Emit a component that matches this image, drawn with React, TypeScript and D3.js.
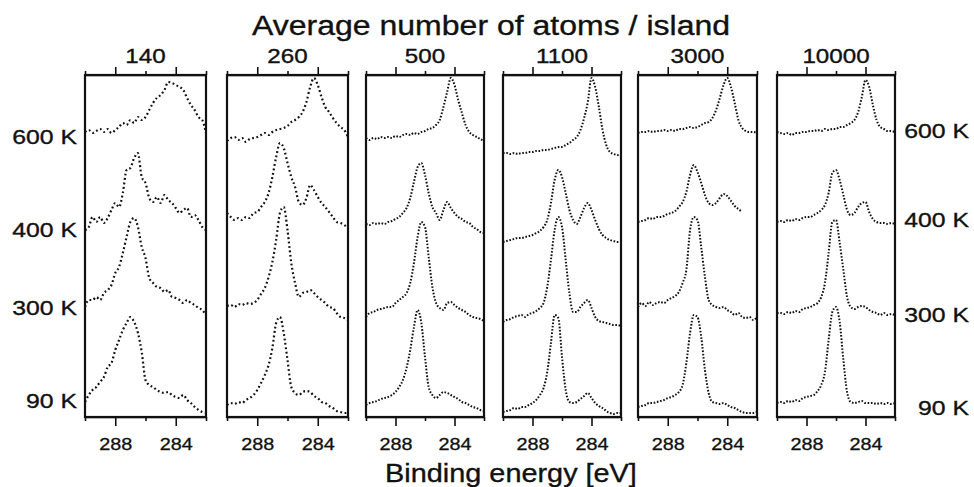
import * as d3 from 'd3';
import * as React from 'react';

// Average number of atoms per island, one panel each
const islandSizes = ['140', '260', '500', '1100', '3000', '10000'];
const temperatures = ['600 K', '400 K', '300 K', '90 K'];
const axisTicks = [290, 288, 286, 284, 282];
const labelledTicks = [288, 284];

// Offset intensities (arb. units), sampled every 0.25 eV from 290 eV downwards
const i140_600 = [285, 287, 284, 286, 288, 285, 288, 284, 287, 290, 294, 292, 297, 294, 300, 297, 300, 307, 314, 319, 322, 327, 335, 334, 332, 330, 327, 319, 312, 307, 300, 297, 284];
const i140_400 = [187, 190, 200, 195, 200, 194, 199, 207, 214, 210, 224, 247, 249, 259, 264, 240, 234, 219, 215, 220, 214, 222, 217, 214, 209, 204, 207, 209, 200, 202, 197, 190, 187];
const i140_300 = [110, 117, 117, 120, 117, 124, 127, 132, 144, 150, 164, 180, 195, 199, 190, 170, 159, 139, 134, 130, 129, 125, 127, 120, 119, 117, 114, 117, 114, 112, 109, 107, 102];
const i140_90 = [15, 22, 27, 30, 35, 40, 50, 54, 67, 77, 87, 94, 100, 95, 84, 65, 37, 32, 30, 27, 25, 24, 25, 22, 20, 19, 22, 17, 14, 10, 7, 5, 4];

const i260_600 = [276, 279, 280, 277, 279, 275, 278, 279, 280, 282, 284, 282, 285, 287, 288, 289, 291, 295, 297, 300, 305, 315, 330, 339, 332, 320, 310, 305, 299, 294, 290, 287, 280];
const i260_400 = [204, 200, 197, 199, 197, 200, 199, 204, 205, 210, 215, 224, 240, 260, 274, 269, 254, 240, 230, 215, 212, 219, 232, 227, 220, 214, 210, 205, 200, 195, 194, 192, 189];
const i260_300 = [111, 112, 110, 113, 112, 114, 113, 114, 117, 123, 129, 140, 155, 177, 204, 210, 187, 154, 134, 120, 124, 125, 127, 124, 120, 117, 114, 110, 109, 104, 100, 99, 97];
const i260_90 = [12, 14, 13, 15, 14, 17, 19, 22, 27, 34, 42, 52, 69, 94, 100, 84, 57, 30, 24, 22, 25, 26, 25, 21, 19, 15, 14, 11, 9, 6, 5, 4, 4];

const i500_600 = [279, 277, 279, 278, 280, 279, 280, 279, 281, 280, 282, 283, 282, 284, 283, 285, 286, 288, 289, 292, 297, 310, 325, 339, 332, 317, 304, 292, 285, 282, 280, 278, 276];
const i500_400 = [193, 192, 194, 193, 194, 193, 195, 196, 198, 200, 204, 209, 219, 235, 250, 254, 242, 224, 210, 204, 197, 207, 215, 209, 204, 200, 198, 195, 194, 190, 188, 185, 184];
const i500_300 = [100, 104, 105, 107, 108, 109, 110, 110, 114, 117, 120, 124, 134, 154, 180, 195, 190, 160, 130, 114, 109, 107, 114, 115, 112, 109, 107, 105, 102, 100, 99, 98, 96];
const i500_90 = [12, 14, 15, 16, 18, 19, 20, 22, 25, 30, 37, 49, 67, 90, 107, 94, 60, 30, 22, 19, 22, 25, 24, 22, 20, 18, 15, 14, 12, 10, 9, 7, 6];

const i1100_600 = [264, 264, 263, 264, 263, 264, 264, 265, 265, 266, 266, 267, 267, 268, 269, 270, 270, 272, 274, 277, 280, 287, 299, 315, 339, 330, 310, 287, 272, 265, 263, 262, 261];
const i1100_400 = [175, 176, 177, 178, 179, 179, 180, 181, 182, 184, 186, 190, 197, 214, 237, 247, 240, 224, 207, 197, 193, 200, 209, 214, 207, 197, 188, 182, 179, 177, 176, 175, 175];
const i1100_300 = [95, 97, 98, 100, 101, 102, 100, 103, 104, 106, 109, 114, 130, 157, 187, 200, 190, 157, 124, 105, 105, 110, 114, 117, 109, 100, 96, 95, 94, 93, 92, 92, 91];
const i1100_90 = [5, 6, 7, 9, 8, 10, 10, 12, 14, 17, 22, 29, 45, 74, 102, 99, 60, 27, 15, 14, 15, 18, 21, 24, 19, 14, 11, 9, 6, 4, 3, 4, 4];

const i3000_600 = [284, 285, 285, 286, 285, 286, 286, 287, 286, 287, 286, 288, 288, 289, 290, 289, 290, 292, 294, 295, 299, 307, 319, 332, 339, 330, 314, 297, 289, 286, 285, 285, 284];
const i3000_400 = [195, 196, 197, 199, 198, 200, 200, 201, 203, 204, 206, 210, 215, 225, 242, 252, 245, 234, 222, 214, 212, 214, 219, 223, 221, 216, 211, 208, 205];
const i3000_300 = [110, 114, 111, 115, 112, 114, 115, 114, 117, 119, 121, 125, 134, 147, 187, 200, 197, 170, 140, 117, 112, 110, 109, 110, 107, 105, 102, 104, 100, 99, 100, 97, 100];
const i3000_90 = [10, 11, 12, 14, 14, 15, 16, 17, 19, 20, 22, 25, 32, 54, 84, 102, 100, 80, 47, 24, 15, 14, 13, 14, 12, 10, 9, 7, 5, 4, 4, 4, 5];

const i10000_600 = [285, 284, 283, 284, 282, 284, 284, 285, 285, 286, 286, 287, 286, 288, 287, 288, 288, 290, 290, 292, 294, 297, 305, 320, 337, 330, 312, 297, 290, 288, 286, 286, 285];
const i10000_400 = [195, 196, 195, 197, 196, 198, 197, 199, 200, 200, 202, 204, 207, 212, 224, 244, 247, 237, 222, 207, 202, 204, 210, 214, 215, 205, 198, 195, 194, 194, 193, 194, 193];
const i10000_300 = [104, 104, 103, 105, 104, 106, 105, 108, 109, 110, 112, 114, 120, 134, 164, 195, 197, 174, 147, 120, 110, 108, 110, 111, 110, 107, 105, 104, 102, 104, 102, 103, 102];
const i10000_90 = [14, 15, 14, 16, 15, 17, 16, 19, 20, 21, 22, 26, 32, 45, 77, 105, 110, 95, 57, 25, 15, 14, 15, 16, 14, 14, 14, 13, 14, 13, 14, 13, 14];

const spectra = [
    [i140_600, i140_400, i140_300, i140_90],
    [i260_600, i260_400, i260_300, i260_90],
    [i500_600, i500_400, i500_300, i500_90],
    [i1100_600, i1100_400, i1100_300, i1100_90],
    [i3000_600, i3000_400, i3000_300, i3000_90],
    [i10000_600, i10000_400, i10000_300, i10000_90],
];

const energies = d3.range(290, 281.99, -0.25);

// layout
const W = 974;
const H = 487;
const panelLeft = [85, 227, 366, 503, 638, 777];
const panelRight = [206, 348, 484, 621, 757, 895];
const panelTop = 75;
const panelBottom = 417;
const leftLabelY = [144, 237, 315, 408];
const rightLabelY = [138, 227, 322, 415];
const font = "'Liberation Sans', Arial, Helvetica, sans-serif";
const ink = '#111';

type Sel = d3.Selection<SVGGElement, unknown, null, undefined>;

function stretchText(g: Sel, x: number, y: number, txt: string, size: number, sx: number, anchor: string) {
    g.append('text')
        .attr('transform', `translate(${x},${y}) scale(${sx},1)`)
        .attr('text-anchor', anchor)
        .attr('font-size', size)
        .attr('fill', ink)
        .attr('stroke', ink)
        .attr('stroke-width', 0.35)
        .text(txt);
}

export default function App() {
    const ref = React.useRef<SVGSVGElement>(null);

    React.useEffect(() => {
        if (!ref.current) return;
        const svg = d3.select(ref.current);
        svg.selectAll('*').remove();
        const root: Sel = svg.append('g').attr('font-family', font);

        const y = d3.scaleLinear().domain([0, 342]).range([panelBottom, panelTop]);

        islandSizes.forEach((size, p) => {
            const x = d3.scaleLinear().domain([290, 282]).range([panelLeft[p], panelRight[p]]);
            const g = root.append('g');

            // curves, drawn as dotted lines like the measured points
            const line = d3.line<number>()
                .x((_, i) => x(energies[i]))
                .y(v => y(v))
                .curve(d3.curveMonotoneX);
            const noisy = p < 2;
            spectra[p].forEach(values => {
                g.append('path')
                    .attr('d', line(values))
                    .attr('fill', 'none')
                    .attr('stroke', ink)
                    .attr('stroke-width', noisy ? 2.2 : 2)
                    .attr('stroke-dasharray', noisy ? '1.8 2.6' : '1.6 1.7');
            });

            // frame
            g.append('rect')
                .attr('x', panelLeft[p])
                .attr('y', panelTop)
                .attr('width', panelRight[p] - panelLeft[p])
                .attr('height', panelBottom - panelTop)
                .attr('fill', 'none')
                .attr('stroke', ink)
                .attr('stroke-width', 2.2);

            // top axis
            const top = g.append('g')
                .attr('transform', `translate(0,${panelTop})`)
                .call(d3.axisTop(x).tickValues(axisTicks).tickSize(4).tickSizeOuter(0).tickFormat(() => ''));
            top.selectAll('.tick line')
                .attr('y2', (d: any) => labelledTicks.includes(d) ? -8 : -4)
                .attr('stroke', ink).attr('stroke-width', 1.6);
            top.select('.domain').attr('stroke', ink).attr('stroke-width', 1.6);

            // bottom axis
            const bottom = g.append('g')
                .attr('transform', `translate(0,${panelBottom})`)
                .call(d3.axisBottom(x).tickValues(axisTicks).tickSize(4).tickSizeOuter(0)
                    .tickFormat((d: any) => labelledTicks.includes(d) ? String(d) : ''));
            bottom.selectAll('.tick line')
                .attr('y2', (d: any) => labelledTicks.includes(d) ? 9 : 4)
                .attr('stroke', ink).attr('stroke-width', 1.6);
            bottom.select('.domain').attr('stroke', ink).attr('stroke-width', 1.6);
            bottom.selectAll('.tick text')
                .attr('y', 21)
                .attr('dy', '0.71em')
                .attr('transform', 'scale(1.2,1)')
                .attr('font-size', 16.5)
                .attr('font-family', font)
                .attr('fill', ink)
                .attr('stroke', ink)
                .attr('stroke-width', 0.3);

            // island size label
            stretchText(root, (panelLeft[p] + panelRight[p]) / 2, 63, size, 19.5, 1.24, 'middle');
        });

        temperatures.forEach((t, k) => {
            stretchText(root, 77, leftLabelY[k], t, 20.5, 1.21, 'end');
            stretchText(root, 969, rightLabelY[k], t, 20.5, 1.21, 'end');
        });

        stretchText(root, 491, 35, 'Average number of atoms / island', 27, 1.186, 'middle');
        stretchText(root, 511, 482, 'Binding energy [eV]', 26, 1.11, 'middle');
    }, []);

    return (
        <div style={{ position: 'fixed', left: 0, top: 0 }}>
            <svg ref={ref} width={W} height={H} style={{ display: 'block', background: '#fff' }} />
        </div>
    );
}
